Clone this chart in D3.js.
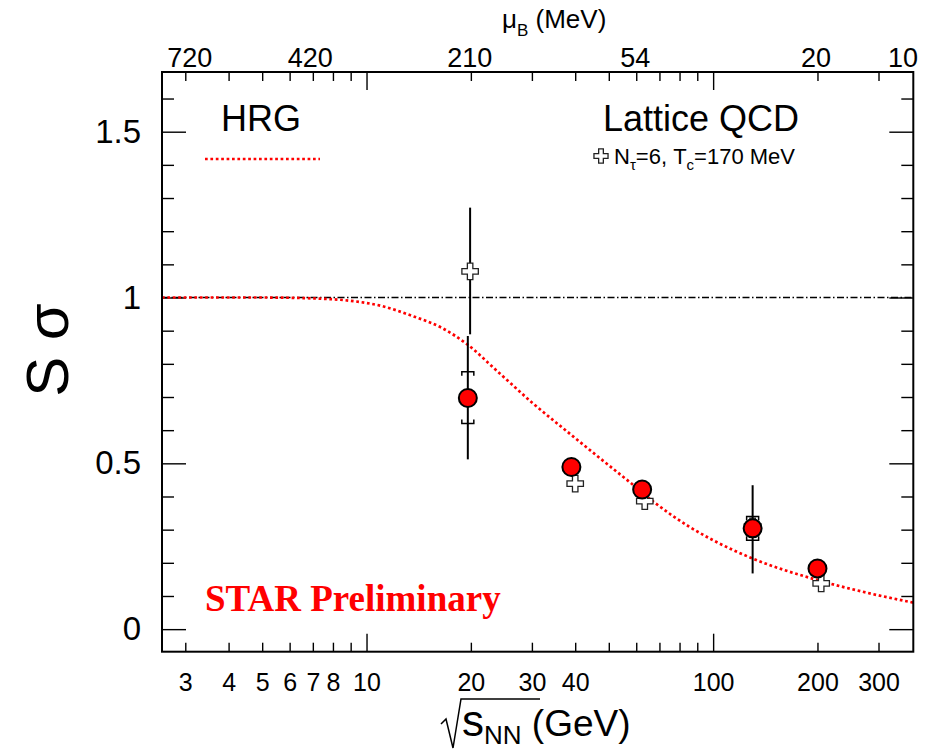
<!DOCTYPE html>
<html>
<head>
<meta charset="utf-8">
<script src="https://d3js.org/d3.v7.min.js"></script>
<style>
  body { margin: 0; background: #fff; }
  svg { display: block; font-family: "Liberation Sans", Arial, sans-serif; }
</style>
</head>
<body>
<svg id="chart" width="932" height="751"></svg>
<script>
// STAR data points (sqrt(s_NN) in GeV, S*sigma)
var starEnergy = [19.6, 39, 62.4, 130, 200];
var starValue  = [0.697, 0.489, 0.421, 0.304, 0.183];
var starStatLo = [0.512, null, null, 0.168, null];
var starStatHi = [0.884, null, null, 0.434, null];
var starSysLo  = [0.620, null, null, 0.268, null];
var starSysHi  = [0.776, null, null, 0.340, null];

// lattice QCD, N_tau=6, Tc=170 MeV
var latEnergy = [19.9, 40, 63.5, 130, 205];
var latValue  = [1.079, 0.439, 0.386, 0.31, 0.138];
var latErrLo  = [0.889, null, null, null, null];
var latErrHi  = [1.271, null, null, null, null];

// HRG curve
var hrgEnergy = [2.57, 5, 6.7, 9, 11.1, 13.5, 16.6, 19.5, 24, 30.2, 38, 47.2, 57.5, 67.7, 85, 100, 130, 200, 280, 378];
var hrgValue  = [1.0, 1.0, 0.998, 0.99, 0.974, 0.945, 0.907, 0.859, 0.775, 0.681, 0.595, 0.515, 0.443, 0.382, 0.31, 0.268, 0.213, 0.148, 0.109, 0.08];

// axes
var xMajor  = [10, 100];
var xMinor  = [3, 4, 5, 6, 7, 8, 9, 20, 30, 40, 50, 60, 70, 80, 90, 200, 300];
var xLabels = [3, 4, 5, 6, 7, 8, 10, 20, 30, 40, 100, 200, 300];
var muLabels = ["720", "420", "210", "54", "20", "10"];
var muEnergy = [3.08, 6.86, 19.8, 59.4, 197.4, 351.6];
var yMajor = [0, 0.5, 1, 1.5];
var yMinor = [0.1, 0.2, 0.3, 0.4, 0.6, 0.7, 0.8, 0.9, 1.1, 1.2, 1.3, 1.4, 1.6];

var W = 932, H = 751;
var pL = 162, pR = 913.3, pT = 72, pB = 651.7;
var font = "'Liberation Sans', Arial, sans-serif";

var x = d3.scaleLog().domain([2.57, 378]).range([pL, pR]);
var y = d3.scaleLinear().domain([-0.068, 1.68]).range([pB, pT]);

var svg = d3.select("#chart");
svg.append("rect").attr("width", W).attr("height", H).attr("fill", "#fff");

svg.append("clipPath").attr("id", "plot")
  .append("rect").attr("x", pL).attr("y", pT)
  .attr("width", pR - pL).attr("height", pB - pT);

// ticks (pointing inwards)
function tickSet(axis, pos, vals, len) {
  svg.append("g").attr("transform", pos)
    .call(axis.tickValues(vals).tickSize(-len).tickFormat(""))
    .call(function(g) { g.select(".domain").remove(); })
    .selectAll("line").attr("stroke", "#000").attr("stroke-width", 1.4);
}
tickSet(d3.axisBottom(x), "translate(0," + pB + ")", xMajor, 18);
tickSet(d3.axisBottom(x), "translate(0," + pB + ")", xMinor, 9);
tickSet(d3.axisTop(x), "translate(0," + pT + ")", xMajor, 18);
tickSet(d3.axisTop(x), "translate(0," + pT + ")", xMinor, 9);
tickSet(d3.axisLeft(y), "translate(" + pL + ",0)", yMajor, 24);
tickSet(d3.axisLeft(y), "translate(" + pL + ",0)", yMinor, 12);
tickSet(d3.axisRight(y), "translate(" + pR + ",0)", yMajor, 24);
tickSet(d3.axisRight(y), "translate(" + pR + ",0)", yMinor, 12);

// tick labels
function labels(g, size) {
  g.select(".domain").remove();
  g.attr("font-family", font).attr("font-size", size);
  g.selectAll("text").attr("fill", "#000");
}
svg.append("g").attr("transform", "translate(0," + pB + ")")
  .call(d3.axisBottom(x).tickValues(xLabels).tickSize(0).tickPadding(22).tickFormat(function(d) { return d; }))
  .call(labels, 25);
svg.append("g").attr("transform", "translate(0," + pT + ")")
  .call(d3.axisTop(x).tickValues(muEnergy).tickSize(0).tickPadding(5)
    .tickFormat(function(d, i) { return muLabels[i]; }))
  .call(labels, 27);
svg.append("g").attr("transform", "translate(" + pL + ",0)")
  .call(d3.axisLeft(y).tickValues(yMajor).tickSize(0).tickPadding(21).tickFormat(function(d) { return d; }))
  .call(labels, 33);

// reference line at 1
svg.append("line")
  .attr("x1", x(2.57)).attr("x2", x(378)).attr("y1", y(1)).attr("y2", y(1))
  .attr("stroke", "#000").attr("stroke-width", 1.5)
  .attr("stroke-dasharray", "7,2.5,1.5,2.5");

// HRG
var hrg = hrgEnergy.map(function(e, i) { return [e, hrgValue[i]]; });
svg.append("path").datum(hrg)
  .attr("clip-path", "url(#plot)")
  .attr("fill", "none").attr("stroke", "#ff0000").attr("stroke-width", 2.7)
  .attr("stroke-dasharray", "2.7,2.7")
  .attr("d", d3.line().x(function(d) { return x(d[0]); }).y(function(d) { return y(d[1]); })
    .curve(d3.curveMonotoneX));

// lattice
var cross = d3.symbol().type(d3.symbolCross);
latEnergy.forEach(function(e, i) {
  if (latErrLo[i] != null) {
    svg.append("line").attr("x1", x(e)).attr("x2", x(e))
      .attr("y1", y(latErrLo[i])).attr("y2", y(latErrHi[i]))
      .attr("stroke", "#000").attr("stroke-width", 2);
  }
});
svg.selectAll(".lat").data(latEnergy).enter().append("path")
  .attr("class", "lat")
  .attr("transform", function(d, i) { return "translate(" + x(d) + "," + y(latValue[i]) + ")"; })
  .attr("d", cross.size(150))
  .attr("fill", "#fff").attr("stroke", "#222").attr("stroke-width", 1.3);

// STAR
starEnergy.forEach(function(e, i) {
  var cx = x(e);
  if (starStatLo[i] != null) {
    svg.append("line").attr("x1", cx).attr("x2", cx)
      .attr("y1", y(starStatLo[i])).attr("y2", y(starStatHi[i]))
      .attr("stroke", "#000").attr("stroke-width", 2);
  }
  if (starSysLo[i] != null) {
    var hi = y(starSysHi[i]), lo = y(starSysLo[i]);
    svg.append("path")
      .attr("d", "M" + (cx - 6) + "," + (hi + 4) + "L" + (cx - 6) + "," + hi + "L" + (cx + 6) + "," + hi + "L" + (cx + 6) + "," + (hi + 4) +
        "M" + (cx - 6) + "," + (lo - 4) + "L" + (cx - 6) + "," + lo + "L" + (cx + 6) + "," + lo + "L" + (cx + 6) + "," + (lo - 4))
      .attr("fill", "none").attr("stroke", "#000").attr("stroke-width", 1.5);
  }
});
svg.selectAll(".star").data(starEnergy).enter().append("circle")
  .attr("class", "star")
  .attr("cx", function(d) { return x(d); })
  .attr("cy", function(d, i) { return y(starValue[i]); })
  .attr("r", 9)
  .attr("fill", "#ff0000").attr("stroke", "#000").attr("stroke-width", 2);

// frame
svg.append("rect").attr("x", pL).attr("y", pT)
  .attr("width", pR - pL).attr("height", pB - pT)
  .attr("fill", "none").attr("stroke", "#000").attr("stroke-width", 2);

// legend
svg.append("text").attr("x", 221).attr("y", 131).attr("font-family", font).attr("font-size", 36).text("HRG");
svg.append("line").attr("x1", 205).attr("x2", 320).attr("y1", 159).attr("y2", 159)
  .attr("stroke", "#ff0000").attr("stroke-width", 2.7).attr("stroke-dasharray", "2.7,2.7");
svg.append("text").attr("x", 603).attr("y", 131).attr("font-family", font).attr("font-size", 36).text("Lattice QCD");
svg.append("path").attr("transform", "translate(601,156)").attr("d", cross.size(110))
  .attr("fill", "#fff").attr("stroke", "#222").attr("stroke-width", 1.3);
var lt = svg.append("text").attr("x", 614).attr("y", 164).attr("font-family", font).attr("font-size", 22);
lt.append("tspan").text("N");
lt.append("tspan").attr("font-size", 15).attr("dy", 6).text("τ");
lt.append("tspan").attr("dy", -6).text("=6, T");
lt.append("tspan").attr("font-size", 15).attr("dy", 6).text("c");
lt.append("tspan").attr("dy", -6).text("=170 MeV");

svg.append("text").attr("x", 205).attr("y", 611)
  .attr("font-family", "'Liberation Serif', 'Times New Roman', serif").attr("font-weight", "bold")
  .attr("font-size", 37).attr("fill", "#ff0000").text("STAR Preliminary");

// axis titles
svg.append("text").attr("transform", "translate(68,350) rotate(-90)")
  .attr("text-anchor", "middle").attr("font-family", font).attr("font-size", 60).text("S σ");

var mt = svg.append("text").attr("x", 502).attr("y", 28).attr("font-family", font).attr("font-size", 26);
mt.append("tspan").text("μ");
mt.append("tspan").attr("font-size", 17).attr("dy", 8).text("B");
mt.append("tspan").attr("dy", -8).text(" (MeV)");

svg.append("path").attr("d", "M441,724L446,719L453,748L461,699L540,699")
  .attr("fill", "none").attr("stroke", "#000").attr("stroke-width", 1.5);
var xt = svg.append("text").attr("x", 462).attr("y", 736).attr("font-family", font).attr("font-size", 44);
xt.append("tspan").text("s");
xt.append("tspan").attr("font-size", 26).attr("dy", 8).text("NN");
xt.append("tspan").attr("dy", -8).attr("font-size", 37).text(" (GeV)");
</script>
</body>
</html>
